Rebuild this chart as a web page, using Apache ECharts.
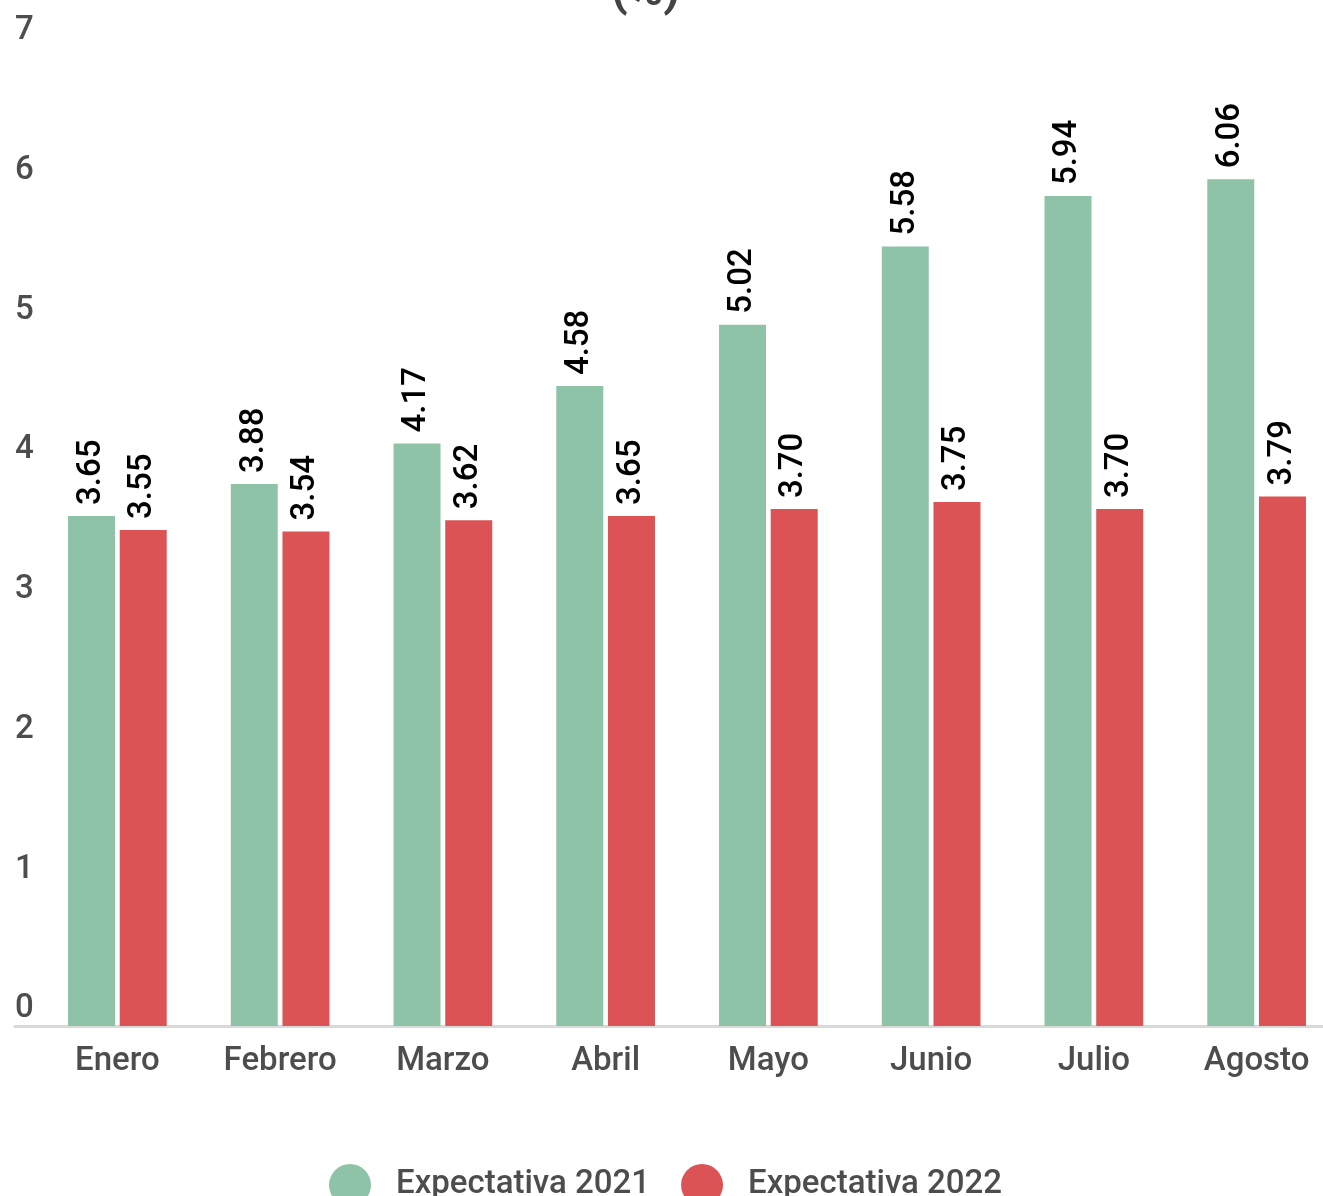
<!DOCTYPE html>
<html>
<head>
<meta charset="utf-8">
<script src="https://cdn.jsdelivr.net/npm/echarts@6/dist/echarts.min.js"></script>
<style>
html,body{margin:0;padding:0;background:#fff;}
#chart{width:1323px;height:1196px;}
</style>
</head>
<body>
<div id="chart"></div>
<script>
const categories = ["Enero","Febrero","Marzo","Abril","Mayo","Junio","Julio","Agosto"];
const exp2021 = [3.65, 3.88, 4.17, 4.58, 5.02, 5.58, 5.94, 6.06];
const exp2022 = [3.55, 3.54, 3.62, 3.65, 3.70, 3.75, 3.70, 3.79];
const seriesNames = ["Expectativa 2021", "Expectativa 2022"];
const titleText = "(%)";

const FONT = "Roboto";
const GREEN = "#8fc3a8";
const RED = "#dc5356";

const chart = echarts.init(document.getElementById('chart'));
const labelCfg = {
  show: true, position: 'top', rotate: 90, align: 'left', verticalAlign: 'middle',
  distance: 11, fontFamily: FONT, fontSize: 33, fontWeight: 500, color: '#000',
  formatter: p => p.value.toFixed(2)
};
chart.setOption({
  animation: false,
  backgroundColor: '#fff',
  title: {
    text: titleText, left: 606, top: -36,
    textStyle: {fontFamily: FONT, fontSize: 48, fontWeight: 'bold', color: '#444'}
  },
  legend: {
    left: 324, top: 1159, itemWidth: 42, itemHeight: 42, itemGap: 31, icon: 'circle',
    textStyle: {fontFamily: FONT, fontSize: 33, fontWeight: 500, color: '#4d4d4d', padding: [0,0,0,20]},
    data: seriesNames
  },
  grid: [
    {left: 36, width: 1302, top: 48, height: 978, outerBoundsMode: 'none', containLabel: false},
    {left: 15, right: 0, top: 48, height: 978, outerBoundsMode: 'none', containLabel: false}
  ],
  xAxis: [
    {type: 'category', gridIndex: 0, data: categories,
     axisLine: {show: false}, axisTick: {show: false},
     axisLabel: {fontFamily: FONT, fontSize: 33, fontWeight: 500, color: '#4d4d4d', margin: 19}},
    {type: 'value', gridIndex: 1, min: 0, max: 1,
     axisLine: {show: true, lineStyle: {color: '#d9d9d9', width: 3}},
     axisTick: {show: false}, axisLabel: {show: false}, splitLine: {show: false}}
  ],
  yAxis: [
    {type: 'value', gridIndex: 0, min: 0, max: 7, interval: 1,
     axisLine: {show: false}, axisTick: {show: false}, splitLine: {show: false},
     axisLabel: {fontFamily: FONT, fontSize: 33, fontWeight: 500, color: '#4d4d4d', align: 'left', margin: 21,
                 verticalAlign: 'middle', lineHeight: 34,
                 formatter: v => v + '\n '}},
    {type: 'value', gridIndex: 1, min: 0, max: 1, show: false}
  ],
  series: [
    {name: seriesNames[0], type: 'bar', data: exp2021, barWidth: 47, barGap: '10%',
     itemStyle: {color: GREEN}, label: labelCfg},
    {name: seriesNames[1], type: 'bar', data: exp2022, barWidth: 47, barGap: '10%',
     itemStyle: {color: RED}, label: labelCfg}
  ]
});
</script>
</body>
</html>
